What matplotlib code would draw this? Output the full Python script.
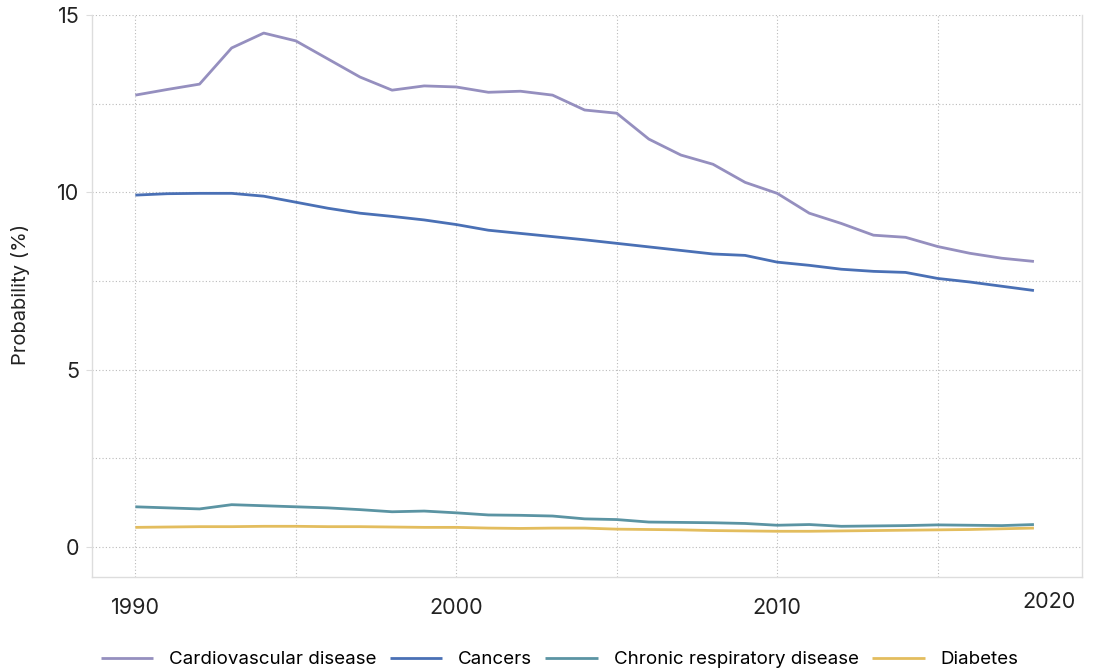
import matplotlib
matplotlib.use("Agg")
import matplotlib.pyplot as plt
from matplotlib.ticker import MultipleLocator

plt.rcParams['font.family'] = ['Inter', 'DejaVu Sans']

years = list(range(1990, 2019))

cardiovascular = [12.74, 12.9, 13.05, 14.07, 14.49, 14.27, 13.76, 13.25, 12.88, 13.0,
                  12.97, 12.82, 12.85, 12.74, 12.32, 12.23, 11.5, 11.05, 10.79, 10.28,
                  9.97, 9.41, 9.12, 8.79, 8.73, 8.47, 8.28, 8.14, 8.05]
cancers = [9.92, 9.96, 9.97, 9.97, 9.89, 9.72, 9.55, 9.41, 9.32, 9.22,
           9.09, 8.93, 8.84, 8.75, 8.66, 8.56, 8.46, 8.36, 8.26, 8.22,
           8.03, 7.94, 7.83, 7.77, 7.74, 7.57, 7.47, 7.35, 7.23]
chronic_resp = [1.13, 1.1, 1.07, 1.19, 1.16, 1.13, 1.1, 1.05, 0.99, 1.01,
                0.96, 0.9, 0.89, 0.87, 0.79, 0.77, 0.7, 0.69, 0.68, 0.66,
                0.61, 0.63, 0.58, 0.59, 0.6, 0.62, 0.61, 0.6, 0.63]
diabetes = [0.55, 0.56, 0.57, 0.57, 0.58, 0.58, 0.57, 0.57, 0.56, 0.55,
            0.55, 0.53, 0.52, 0.53, 0.53, 0.5, 0.49, 0.48, 0.46, 0.45,
            0.44, 0.44, 0.45, 0.46, 0.47, 0.48, 0.49, 0.51, 0.53]

series = [
    ('Cardiovascular disease', cardiovascular, '#958fbf'),
    ('Cancers', cancers, '#4a70b5'),
    ('Chronic respiratory disease', chronic_resp, '#5b94a3'),
    ('Diabetes', diabetes, '#e3bd5e'),
]

fig = plt.figure(figsize=(10.93, 6.69), dpi=100)
ax = fig.add_axes([0.0842, 0.1375, 0.9058, 0.8401])

for name, vals, col in series:
    ax.plot(years, vals, color=col, lw=2, label=name, solid_capstyle='butt')

ax.set_xlim(1988.65, 2019.5)
ax.set_ylim(-0.85, 15.0)
ax.set_xticks([1990, 2000, 2010])
ax.xaxis.set_minor_locator(MultipleLocator(5))
ax.set_yticks([0, 5, 10, 15])
ax.yaxis.set_minor_locator(MultipleLocator(2.5))

ax.grid(True, which='both', color='#bbbbbb', linestyle=(0, (1, 2)), lw=0.8)
ax.set_axisbelow(True)

for side in ['left', 'bottom', 'right']:
    ax.spines[side].set_color('#dddddd')
    ax.spines[side].set_linewidth(1)
ax.spines['top'].set_visible(False)

ax.tick_params(axis='x', which='both', length=0, pad=15, labelsize=15.5, labelcolor='#222222')
ax.tick_params(axis='y', which='major', length=4, color='#dddddd', pad=5, labelsize=15.5,
               labelcolor='#222222')
ax.tick_params(axis='y', which='minor', length=0)

# last label sits at the right edge of the plot
ax.text(2019.3, -15 / 562, '2020', transform=ax.get_xaxis_transform(), ha='right', va='top',
        fontsize=15.5, color='#222222')

ax.set_ylabel('Probability (%)', fontsize=14.5, color='#222222')
ax.yaxis.set_label_coords(-0.0627, 0.503)

fig.legend(loc='lower center', bbox_to_anchor=(0.512, -0.024), ncol=4, frameon=False,
           fontsize=13.5, handlelength=2.8, columnspacing=0.7, handletextpad=0.85)

fig.savefig('out.png', dpi=100)
